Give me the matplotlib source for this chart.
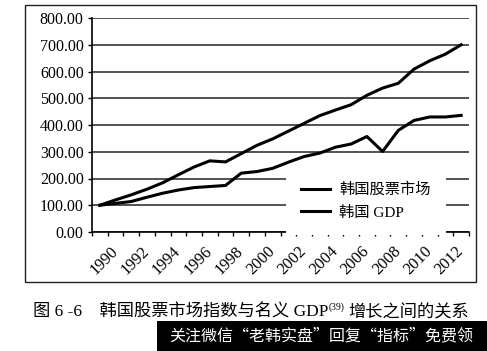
import numpy as np
import matplotlib.pyplot as plt
from matplotlib.patches import Rectangle
from matplotlib.ticker import FuncFormatter
from matplotlib.transforms import ScaledTranslation

plt.rcParams['font.family'] = ['Liberation Serif', 'Noto Sans CJK SC']

# ---------------- DATI ----------------
years = np.arange(1990, 2014)
stock = [100, 107, 114, 130, 145, 157, 166, 170, 174, 220, 226, 238,
         261, 282, 295, 317, 329, 357, 301, 380, 417, 430, 430, 436]
gdp = [100, 120, 139, 160, 184, 214, 243, 266, 262, 293, 324, 348,
       377, 406, 435, 456, 476, 511, 538, 556, 609, 640, 665, 700]
series_labels = ['韩国股票市场', '韩国 GDP']
tick_years = years[::2]
y_ticks = np.arange(0, 801, 100)

caption = '图 6 -6    韩国股票市场指数与名义 GDP'
caption_sup = '(39)'
caption_end = '增长之间的关系'
banner = '关注微信“老韩实盘”回复“指标”免费领'

# ---------------- FIGURA ----------------
W, H = 487, 351
fig = plt.figure(figsize=(W / 100, H / 100), dpi=100)
ax = fig.add_axes([92 / W, 1 - 232 / H, 377 / W, 214 / H])

ax.plot(years, stock, color='black', lw=2.2, label=series_labels[0])
ax.plot(years, gdp, color='black', lw=2.2, label=series_labels[1])

ax.set_xlim(1989.5, 2013.5)
ax.set_ylim(0, 800)
ax.set_yticks(y_ticks)
ax.yaxis.set_major_formatter(FuncFormatter(lambda v, p: f'{v:.2f}'))
ax.yaxis.grid(True, color='#333333', lw=1.2)
ax.set_axisbelow(True)

for s in ['top', 'right']:
    ax.spines[s].set_visible(False)
for s in ['left', 'bottom']:
    ax.spines[s].set_linewidth(1.2)

ax.set_xticks(tick_years)
ax.set_xticklabels([str(y) for y in tick_years], rotation=45, ha='right',
                   rotation_mode='anchor', fontsize=11.8)
ax.set_xticks(np.arange(1989.5, 2014, 1), minor=True)
ax.tick_params(axis='x', which='major', length=0, pad=8)
ax.tick_params(axis='x', which='minor', length=3, width=1, direction='out')
ax.tick_params(axis='y', length=3, width=1, direction='out', labelsize=11.5, pad=3)

# etichette spostate un po' a destra come nell'originale
shift = ScaledTranslation(10 / 100, 0, fig.dpi_scale_trans)
for lab in ax.get_xticklabels():
    lab.set_transform(lab.get_transform() + shift)

ax.legend(loc='center', bbox_to_anchor=(0.727, 0.145), frameon=True,
          fancybox=False, edgecolor='none', facecolor='white', framealpha=1,
          fontsize=11, handlelength=1.9, handletextpad=0.6, borderpad=1.0,
          labelspacing=0.55)

# cornice esterna
fig.add_artist(Rectangle((25 / W, 1 - 282 / H), 451 / W, 277 / H,
                         transform=fig.transFigure, fill=False,
                         ec='#222222', lw=1))

# ---------------- DIDASCALIA ----------------
t1 = fig.text(33 / W, 1 - 313 / H, caption, fontsize=12.4, ha='left', va='center')
t2 = ax.annotate(caption_sup, xy=(1, 0.55), xycoords=t1, fontsize=7,
                 ha='left', va='bottom', annotation_clip=False)
ax.annotate(caption_end, xy=(1, 0), xycoords=(t2, t1), xytext=(3, 0),
            textcoords='offset points', fontsize=12.4, ha='left', va='bottom',
            annotation_clip=False)

fig.add_artist(Rectangle((157 / W, 0), 330 / W, 30 / H,
                         transform=fig.transFigure, fc='black', ec='none'))
fig.text(321 / W, 1 - 336 / H, banner, color='white', fontsize=11.5,
         family=['Noto Sans CJK SC'], ha='center', va='center')

fig.savefig('out.png', dpi=100)
